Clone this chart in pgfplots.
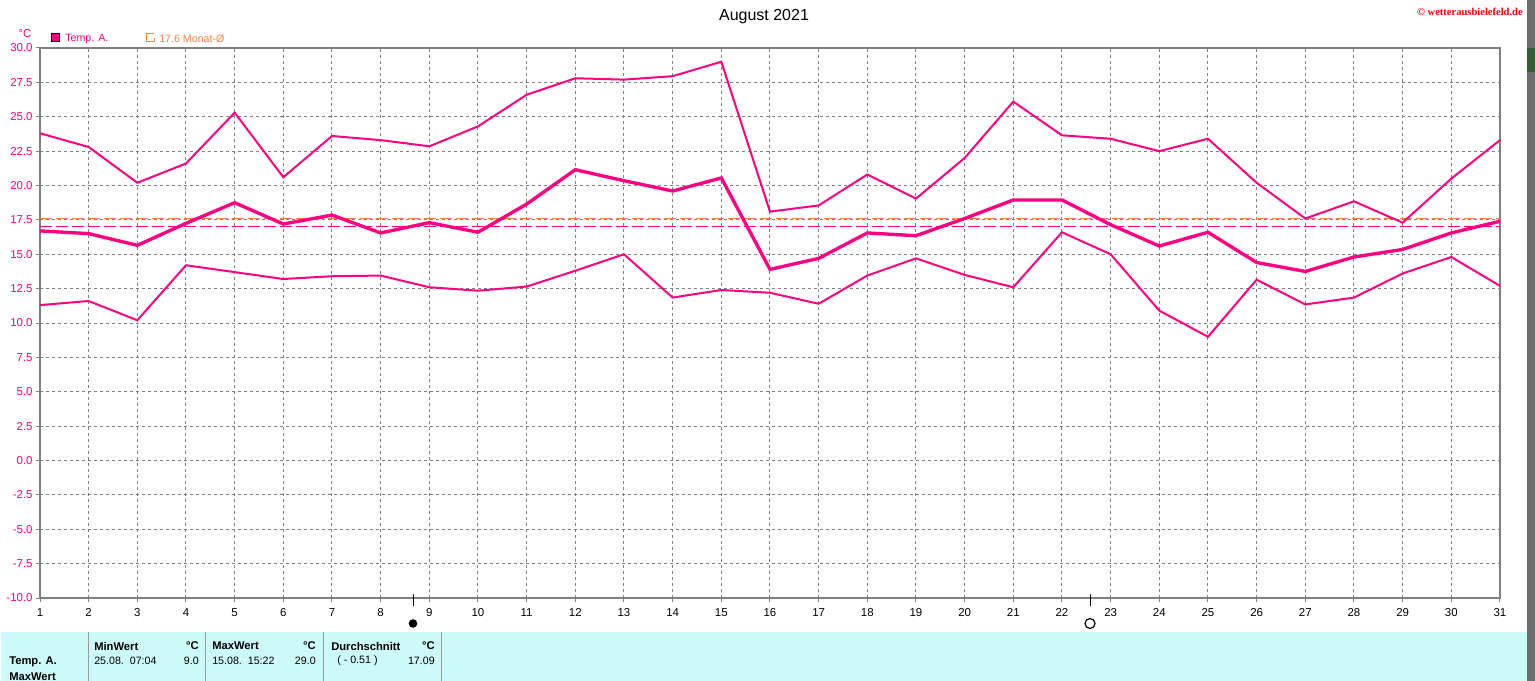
\documentclass[border=0pt]{standalone}
\usepackage{pgfplots}
\pgfplotsset{compat=1.18}
\usepackage{fontspec}
\setmainfont{Liberation Sans}
\newfontfamily\serif{Liberation Serif}
\definecolor{tp}{RGB}{255,0,128}
\definecolor{org}{RGB}{255,128,64}
\definecolor{pan}{RGB}{204,250,248}
\definecolor{gr}{RGB}{128,128,128}
\pgfplotstableread{
d max avg min
1 23.8 16.7 11.3
2 22.8 16.5 11.6
3 20.2 15.65 10.2
4 21.6 17.25 14.2
5 25.3 18.75 13.7
6 20.6 17.2 13.2
7 23.6 17.85 13.4
8 23.3 16.55 13.45
9 22.85 17.3 12.6
10 24.3 16.6 12.35
11 26.6 18.65 12.65
12 27.8 21.15 13.8
13 27.7 20.35 15.0
14 27.95 19.6 11.85
15 29.0 20.55 12.4
16 18.1 13.9 12.2
17 18.55 14.7 11.4
18 20.8 16.55 13.45
19 19.05 16.35 14.7
20 22.0 17.6 13.5
21 26.1 18.95 12.6
22 23.65 18.95 16.6
23 23.4 17.15 15.0
24 22.5 15.6 10.9
25 23.4 16.6 9.0
26 20.2 14.4 13.15
27 17.6 13.75 11.35
28 18.85 14.8 11.85
29 17.3 15.35 13.6
30 20.5 16.55 14.8
31 23.3 17.4 12.7
}\tdata
\pgfplotstableread{
x y
1 17.63
31 17.63
}\tmonth
\pgfplotstableread{
x y
1 17.05
31 17.05
}\tmean
\begin{document}
\begin{tikzpicture}[x=0.75pt,y=-0.75pt]
\useasboundingbox (0,0) rectangle (1535,681);
\fill[white] (0,0) rectangle (1535,681);
\fill[pan] (1,632) rectangle (1527,681);
\fill[gr!85!black] (1527,0) rectangle (1535,681);
\fill[green!30!black,opacity=.5] (1527,48) rectangle (1535,72);
\foreach \c in {88,205,323,441} \draw[gr!80,line width=.75pt] (\c,632) -- (\c,681);
\begin{axis}[
  at={(30pt,-448.5pt)},anchor=south west,scale only axis,
  width=1095pt,height=412.5pt,
  xmin=1,xmax=31,ymin=-10,ymax=30,
  xtick={1,...,31},
  ytick={-10,-7.5,...,30},
  grid=major,
  major grid style={gr,line width=.75pt,dash pattern=on 2.25pt off 2.25pt},
  axis line style={gr,line width=1.6pt},
  tick style={gr,line width=.75pt},
  major tick length=3pt,
  tick align=outside,
  xtick pos=bottom,ytick pos=left,
  tick label style={font=\fontsize{8.6}{10}\selectfont},
  yticklabel style={tp,xshift=1pt},
  xticklabel style={black,yshift=-1pt,text height=6.5pt,text depth=0pt},
  /pgf/number format/assume math mode=true,
  /pgf/number format/fixed,/pgf/number format/fixed zerofill,/pgf/number format/precision=1,
  xticklabel={\pgfmathprintnumber[precision=0,fixed zerofill=false,int detect]{\tick}},
  clip=false,
  axis on top=false,
]
\addplot[org,line width=.8pt,dash pattern=on 9pt off 3pt,forget plot] table[x=x,y=y]{\tmonth};
\addplot[tp,line width=.8pt,dash pattern=on 9pt off 3pt,forget plot] table[x=x,y=y]{\tmean};
\addplot[tp,line width=1.5pt] table[x=d,y=max]{\tdata};
\addplot[tp,line width=2.5pt] table[x=d,y=avg]{\tdata};
\addplot[tp,line width=1.5pt] table[x=d,y=min]{\tdata};
\end{axis}
% moon phases
\draw[black,line width=.75pt] (413,594) -- (413,606);
\draw[black,line width=.75pt] (1090,594) -- (1090,606);
\fill[black] (413,623.5) circle (4.3);
\draw[black,line width=.9pt] (1090,623.5) circle (5);
% titles
\node[font=\fontsize{12}{14}\selectfont] at (764,17) {August 2021};
\node[tp,font=\fontsize{8.6}{10}\selectfont] at (25,34) {°C};
\filldraw[fill=tp,draw=black,line width=.75pt] (51,34) rectangle (59.5,42);
\node[tp,anchor=west,inner sep=0,font=\fontsize{8}{10}\selectfont] at (65,38.5) {Temp. A.};
\draw[org,line width=.75pt] (154,34) -- (146,34) -- (146,42) -- (154,42) -- (154,38);
\node[org,anchor=west,inner sep=0,font=\fontsize{8}{10}\selectfont] at (159,38.5) {17.6 Monat-Ø};
\node[anchor=east,inner sep=0,font=\fontsize{7.9}{9}\selectfont\serif\bfseries,text=red] at (1523,12) {© wetterausbielefeld.de};
% table
\def\fs{\fontsize{8}{10}\selectfont}
\def\fb{\fontsize{8.4}{10}\selectfont\bfseries}
\node[anchor=west,inner sep=0,font=\fb] at (9,662) {Temp. A.};
\node[anchor=west,inner sep=0,font=\fb] at (9,677) {MaxWert};
\node[anchor=west,inner sep=0,font=\fb] at (94,646) {MinWert};
\node[anchor=east,inner sep=0,font=\fb] at (199,646) {°C};
\node[anchor=west,inner sep=0,font=\fs] at (94,661) {25.08.\ \ 07:04};
\node[anchor=east,inner sep=0,font=\fs] at (199,661) {9.0};
\node[anchor=west,inner sep=0,font=\fb] at (212,646) {MaxWert};
\node[anchor=east,inner sep=0,font=\fb] at (316,646) {°C};
\node[anchor=west,inner sep=0,font=\fs] at (212,661) {15.08.\ \ 15:22};
\node[anchor=east,inner sep=0,font=\fs] at (316,661) {29.0};
\node[anchor=west,inner sep=0,font=\fb] at (331,646) {Durchschnitt};
\node[anchor=east,inner sep=0,font=\fb] at (435,646) {°C};
\node[anchor=west,inner sep=0,font=\fs] at (337,661) {( - 0.51 )};
\node[anchor=east,inner sep=0,font=\fs] at (435,661) {17.09};
\end{tikzpicture}
\end{document}
